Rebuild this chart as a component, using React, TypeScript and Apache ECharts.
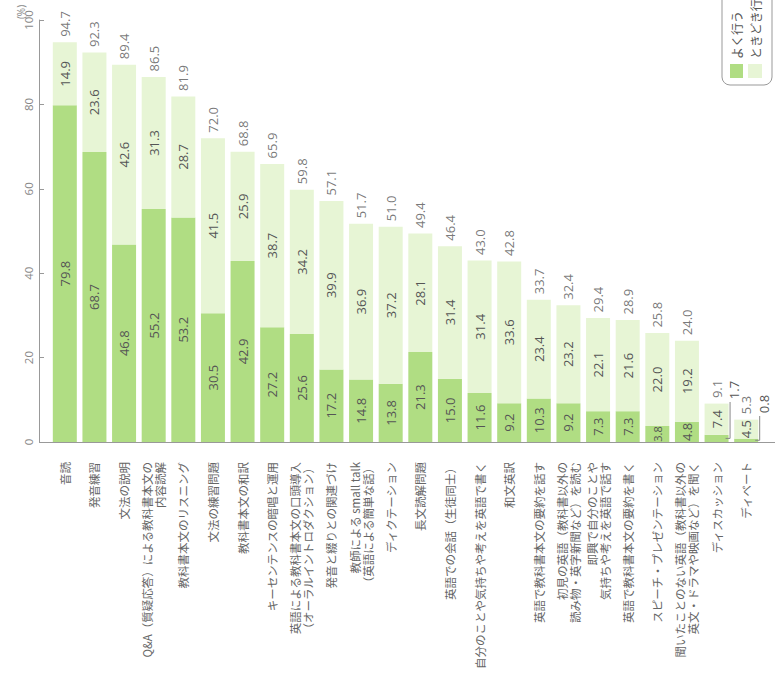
import React, { useEffect, useRef } from "react";
import * as echarts from "echarts";

const categories = [
  "音読",
  "発音練習",
  "文法の説明",
  "Q&A（質疑応答）による教科書本文の\n内容読解",
  "教科書本文のリスニング",
  "文法の練習問題",
  "教科書本文の和訳",
  "キーセンテンスの暗唱と運用",
  "英語による教科書本文の口頭導入\n（オーラルイントロダクション）",
  "発音と綴りとの関連づけ",
  "教師による small talk\n（英語による簡単な話）",
  "ディクテーション",
  "長文読解問題",
  "英語での会話（生徒同士）",
  "自分のことや気持ちや考えを英語で書く",
  "和文英訳",
  "英語で教科書本文の要約を話す",
  "初見の英語（教科書以外の\n読み物・英字新聞など）を読む",
  "即興で自分のことや\n気持ちや考えを英語で話す",
  "英語で教科書本文の要約を書く",
  "スピーチ・プレゼンテーション",
  "聞いたことのない英語（教科書以外の\n英文・ドラマや映画など）を聞く",
  "ディスカッション",
  "ディベート",
];

const oftenValues = [
  79.8, 68.7, 46.8, 55.2, 53.2, 30.5, 42.9, 27.2, 25.6, 17.2, 14.8, 13.8,
  21.3, 15.0, 11.6, 9.2, 10.3, 9.2, 7.3, 7.3, 3.8, 4.8, 1.7, 0.8,
];

const sometimesValues = [
  14.9, 23.6, 42.6, 31.3, 28.7, 41.5, 25.9, 38.7, 34.2, 39.9, 36.9, 37.2,
  28.1, 31.4, 31.4, 33.6, 23.4, 23.2, 22.1, 21.6, 22.0, 19.2, 7.4, 4.5,
];

const totalValues = [
  94.7, 92.3, 89.4, 86.5, 81.9, 72.0, 68.8, 65.9, 59.8, 57.1, 51.7, 51.0,
  49.4, 46.4, 43.0, 42.8, 33.7, 32.4, 29.4, 28.9, 25.8, 24.0, 9.1, 5.3,
];

const seriesNames = ["よく行う", "ときどき行う"];
const yTicks = { min: 0, max: 100, interval: 20 };
const unitLabel = "(%)";

// categories whose tiny "よく行う" segment is labelled outside with a leader line
const calloutIndices = [22, 23];
// pixel rise of those callout labels above the baseline (style only)
const calloutRise: Record<number, number> = { 22: 52, 23: 38 };
// categories whose inside label uses a smaller font (style only)
const smallLabelIndices = [20];

const DARK = "#b0dd83";
const LIGHT = "#e7f5d5";
const NUM_FONT = '"Open Sans", "Noto Sans CJK JP", sans-serif';
const JP_FONT = '"Noto Sans CJK JP", "Open Sans", sans-serif';
const BAR_WIDTH = 24;

export default function App() {
  const ref = useRef<HTMLDivElement>(null);

  useEffect(() => {
    if (!ref.current) return;
    const chart = echarts.init(ref.current, undefined, { renderer: "svg" });

    const fmt = (p: any) => Number(p.value).toFixed(1);
    const valueLabel = {
      show: true,
      position: "inside",
      rotate: 90,
      align: "center",
      verticalAlign: "middle",
      fontSize: 13,
      color: "#555",
      fontFamily: NUM_FONT,
      formatter: fmt,
    };

    const oftenData = oftenValues.map((v, i) => {
      if (calloutIndices.includes(i)) return { value: v, label: { show: false } };
      if (smallLabelIndices.includes(i)) return { value: v, label: { fontSize: 11 } };
      return v;
    });

    const calloutData = calloutIndices.map((i) => [i, oftenValues[i]]);

    chart.setOption({
      animation: false,
      backgroundColor: "#ffffff",
      grid: { left: 50, right: 14, top: 20, bottom: 237, containLabel: false },
      xAxis: {
        type: "category",
        data: categories,
        axisLine: { show: false },
        axisTick: { show: false },
        axisLabel: {
          interval: 0,
          rotate: 90,
          margin: 20,
          fontSize: 11.5,
          lineHeight: 13,
          color: "#666",
          fontFamily: JP_FONT,
        },
      },
      yAxis: {
        type: "value",
        min: yTicks.min,
        max: yTicks.max,
        interval: yTicks.interval,
        offset: 11,
        splitLine: { show: false },
        axisLine: { show: true, lineStyle: { color: "#999", width: 1 } },
        axisTick: { show: true, inside: true, length: 5, lineStyle: { color: "#999" } },
        axisLabel: {
          rotate: 90,
          margin: 5,
          align: "center",
          verticalAlign: "bottom",
          fontSize: 11.5,
          color: "#888",
          fontFamily: NUM_FONT,
        },
      },
      series: [
        {
          name: seriesNames[0],
          type: "bar",
          stack: "total",
          barWidth: BAR_WIDTH,
          itemStyle: { color: DARK },
          label: valueLabel,
          data: oftenData,
        },
        {
          name: seriesNames[1],
          type: "bar",
          stack: "total",
          barWidth: BAR_WIDTH,
          itemStyle: { color: LIGHT },
          label: valueLabel,
          data: sometimesValues,
        },
        {
          name: "合計",
          type: "scatter",
          symbolSize: 1,
          itemStyle: { color: "rgba(0,0,0,0)" },
          label: {
            show: true,
            position: "top",
            distance: 5,
            rotate: 90,
            align: "left",
            verticalAlign: "middle",
            fontSize: 13,
            color: "#555",
            fontFamily: NUM_FONT,
            formatter: fmt,
          },
          data: totalValues,
        },
        {
          name: "callout",
          type: "custom",
          silent: true,
          clip: false,
          z: 5,
          renderItem: (params: any, api: any) => {
            const idx = api.value(0);
            const v = api.value(1);
            const top = api.coord([idx, v]);
            const base = api.coord([idx, 0]);
            const xr = top[0] + BAR_WIDTH / 2 + 1.5;
            const labelY = base[1] - (calloutRise[idx] ?? 40);
            const midY = (top[1] + base[1]) / 2;
            return {
              type: "group",
              children: [
                {
                  type: "polyline",
                  shape: {
                    points: [
                      [xr, labelY + 12],
                      [xr, midY],
                      [top[0] + BAR_WIDTH / 2 - 3, midY],
                    ],
                  },
                  style: { stroke: "#888", lineWidth: 1, fill: "none" },
                },
                {
                  type: "text",
                  x: xr + 4,
                  y: labelY,
                  rotation: Math.PI / 2,
                  style: {
                    text: Number(v).toFixed(1),
                    fontSize: 13,
                    fill: "#555",
                    align: "center",
                    verticalAlign: "middle",
                    fontFamily: NUM_FONT,
                  },
                },
              ],
            };
          },
          data: calloutData,
        },
      ],
      graphic: [
        {
          type: "line",
          shape: { x1: 39, y1: 442.5, x2: 775, y2: 442.5 },
          style: { stroke: "#999", lineWidth: 1 },
          silent: true,
        },
        {
          type: "text",
          x: 21,
          y: 12,
          rotation: Math.PI / 2,
          style: {
            text: unitLabel,
            fontSize: 10,
            fill: "#888",
            align: "center",
            verticalAlign: "middle",
            fontFamily: NUM_FONT,
          },
        },
        {
          type: "group",
          children: [
            {
              type: "rect",
              shape: { x: 722, y: -30, width: 50, height: 115, r: 8 },
              style: { fill: "#fff", stroke: "#999", lineWidth: 1 },
            },
            {
              type: "rect",
              shape: { x: 730, y: 64, width: 13, height: 14 },
              style: { fill: DARK },
            },
            {
              type: "rect",
              shape: { x: 748, y: 64, width: 14, height: 14 },
              style: { fill: LIGHT },
            },
            {
              type: "text",
              x: 736.5,
              y: 59,
              rotation: Math.PI / 2,
              style: {
                text: seriesNames[0],
                fontSize: 12,
                fill: "#555",
                align: "left",
                verticalAlign: "middle",
                fontFamily: JP_FONT,
              },
            },
            {
              type: "text",
              x: 755.5,
              y: 59,
              rotation: Math.PI / 2,
              style: {
                text: seriesNames[1],
                fontSize: 12,
                fill: "#555",
                align: "left",
                verticalAlign: "middle",
                fontFamily: JP_FONT,
              },
            },
          ],
        },
      ],
    });

    return () => chart.dispose();
  }, []);

  return (
    <div
      ref={ref}
      style={{ position: "fixed", left: 0, top: 0, width: 775, height: 679, background: "#fff" }}
    />
  );
}
